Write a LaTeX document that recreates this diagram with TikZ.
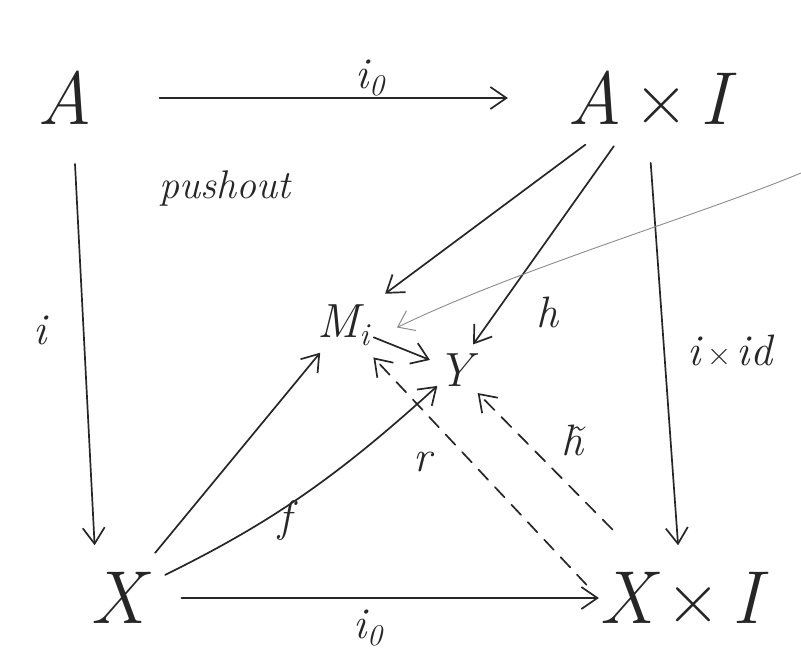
\documentclass[tikz,border=0pt]{standalone}
\usepackage{fontspec}
\setmainfont{Latin Modern Roman}
\usetikzlibrary{arrows.meta}
\begin{document}
\begin{tikzpicture}[x=1pt,y=-1pt,
  ink/.style={draw=black!85, line width=1.7pt, line cap=round},
  arr/.style={ink, -{Straight Barb[length=16pt,width=22pt,line width=1.7pt]}},
  dasharr/.style={arr, dash pattern=on 14pt off 10pt},
  pencil/.style={draw=black!45, line width=0.9pt, -{Straight Barb[length=15pt,width=22pt,line width=1pt]}},
  big/.style={inner sep=0pt, font=\fontsize{75}{75}\selectfont\itshape, text=black!85},
  mid/.style={inner sep=0pt, font=\fontsize{48}{48}\selectfont\itshape, text=black!85},
  lab/.style={inner sep=0pt, font=\fontsize{44}{44}\selectfont\itshape, text=black!85},
  note/.style={inner sep=0pt, font=\fontsize{40}{40}\selectfont\itshape, text=black!85},
]
\useasboundingbox (0,0) rectangle (801,656);

% objects
\node[big] (A)  at (65,98)   {A};
\node[big] (AI) at (648,98)  {A{\upshape\,×\,}I};
\node[big] (X)  at (118,598) {X};
\node[big] (XI) at (680,598) {X{\upshape\,×\,}I};
\node[mid] (M)  at (343,325) {M\raisebox{-8pt}{\fontsize{32}{32}\selectfont i}};
\node[mid] (Y)  at (455,370) {Y};

% labels
\node[lab] (lio) at (370,78)  {i\raisebox{-7pt}{\fontsize{30}{30}\selectfont 0}};
\node[lab] (lbo) at (368,628) {i\raisebox{-7pt}{\fontsize{30}{30}\selectfont 0}};
\node[lab] (li)  at (40,330)  {i};
\node[lab] (lixid) at (730,350) {i{\upshape\fontsize{34}{34}\selectfont\,×\,}id};
\node[lab] (lh)  at (547,312) {h};
\node[lab] (lf)  at (285,520) {f};
\node[lab] (lr)  at (423,462) {r};
\node[lab] (lht) at (572,440) {\~{h}};
\node[note] (po) at (225,188) {pushout};

% connectors
\draw[arr, shorten <=67pt, shorten >=59pt] (A) -- (AI);
\draw[arr, shorten <=39pt, shorten >=27pt] ([xshift=8pt]A.south) -- ([xshift=-22pt]X.north);
\draw[arr, shorten <=38pt, shorten >=27pt] (AI.south) -- (XI.north);
\draw[arr, shorten <=33pt, shorten >=20pt] (AI) -- (M);
\draw[arr, shorten <=26pt, shorten >=11pt] (AI) -- (Y);
\draw[arr, shorten <=25pt, shorten >=9pt] (X) -- (M);
\draw[arr, shorten <=22pt, shorten >=0pt] (X) to[bend right=8] (Y);
\draw[arr, shorten <=5pt, shorten >=8pt] (M) -- (Y);
\draw[dasharr, shorten <=18pt, shorten >=16pt] (XI.west) -- (M);
\draw[dasharr, shorten <=60pt, shorten >=9pt] (XI) -- (Y);
\draw[arr, shorten <=36pt, shorten >=0pt] (X) -- (XI);

% stray pencil stroke
\coordinate (E) at (801,173);
\draw[pencil, shorten >=31pt] (E) .. controls (700,215) and (520,268) .. ([yshift=-16pt]M.east);
\end{tikzpicture}
\end{document}
